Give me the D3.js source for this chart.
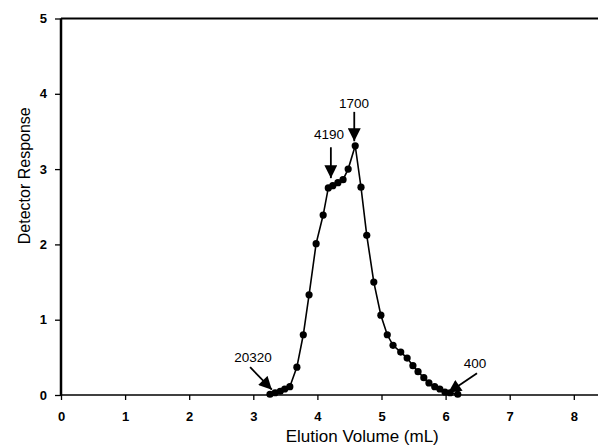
<!DOCTYPE html>
<html>
<head>
<meta charset="utf-8">
<script src="https://cdn.jsdelivr.net/npm/d3@7"></script>
<style>
  body { margin: 0; background: #fff; }
  svg { display: block; }
  .tick text { font-family: "Liberation Sans Narrow", "Arial Narrow", "Liberation Sans", Arial, sans-serif; font-weight: bold; font-size: 13px; }
</style>
</head>
<body>
<div id="chart"></div>
<script>
var width = 598, height = 447;
var margin = ({top: 18.5, right: 0, bottom: 52, left: 61});

// elution volume (mL) and detector response
var volume = [3.26, 3.34, 3.42, 3.49, 3.57, 3.68, 3.78, 3.87, 3.98, 4.09,
              4.17, 4.24, 4.32, 4.40, 4.48, 4.59, 4.68, 4.77, 4.88, 4.99,
              5.09, 5.18, 5.30, 5.40, 5.49, 5.57, 5.66, 5.74, 5.83, 5.91,
              5.99, 6.07, 6.19];
var response = [0.01, 0.03, 0.05, 0.08, 0.11, 0.37, 0.80, 1.33, 2.01, 2.39,
                2.75, 2.78, 2.82, 2.86, 3.00, 3.31, 2.76, 2.12, 1.50, 1.06,
                0.80, 0.66, 0.57, 0.49, 0.39, 0.31, 0.23, 0.16, 0.11, 0.08,
                0.04, 0.03, 0.01];

var xTicks = [0, 1, 2, 3, 4, 5, 6, 7, 8];
var yTicks = [0, 1, 2, 3, 4, 5];

// molecular weight markers: label, label position, arrow start, arrow tip (data units)
var markLabels = ["20320", "4190", "1700", "400"];
var markText = [[3.29, 0.505], [4.18, 3.47], [4.57, 3.88], [6.46, 0.425]];
var markFrom = [[2.95, 0.37], [4.21, 3.29], [4.575, 3.76], [6.49, 0.29]];
var markTo = [[3.29, 0.07], [4.21, 2.88], [4.575, 3.37], [6.04, 0.03]];
var markAnchor = ["end", "middle", "middle", "middle"];

var x = d3.scaleLinear()
    .domain([0, (width - margin.left) / 64.1])
    .range([margin.left, width - margin.right]);

var y = d3.scaleLinear()
    .domain([0, 5])
    .range([height - margin.bottom, margin.top]);

const svg = d3.select("#chart")
    .append("svg")
    .attr("width", width)
    .attr("height", height)
    .attr("viewBox", [0, 0, width, height]);

svg.append("defs").append("marker")
    .attr("id", "head")
    .attr("viewBox", "0 -5 10 10")
    .attr("refX", 10)
    .attr("refY", 0)
    .attr("markerUnits", "userSpaceOnUse")
    .attr("markerWidth", 14)
    .attr("markerHeight", 13)
    .attr("orient", "auto")
  .append("path")
    .attr("d", "M0,-5L10,0L0,5Z")
    .attr("fill", "#000");

// top frame line
svg.append("line")
    .attr("x1", x(0)).attr("x2", width)
    .attr("y1", y(5)).attr("y2", y(5))
    .attr("stroke", "#000")
    .attr("stroke-width", 2);

var xAxis = g => g
    .attr("transform", `translate(0,${y(0)})`)
    .call(d3.axisBottom(x).tickValues(xTicks).tickSize(5).tickPadding(12).tickFormat(d3.format("d")))
    .call(g => g.select(".domain").attr("stroke-width", 1.5).attr("d", `M${x(0)},0H${width}`))
    .call(g => g.selectAll(".tick line").attr("stroke-width", 1.3));

var yAxis = g => g
    .attr("transform", `translate(${x(0)},0)`)
    .call(d3.axisLeft(y).tickValues(yTicks).tickSize(6).tickPadding(8).tickFormat(d3.format("d")))
    .call(g => g.select(".domain").attr("stroke-width", 2.5).attr("d", `M0,${y(0)}V${y(5)}`))
    .call(g => g.selectAll(".tick line").attr("stroke-width", 1.3));

svg.append("g").call(xAxis);
svg.append("g").call(yAxis);

svg.append("text")
    .attr("x", x(4.7))
    .attr("y", 442)
    .attr("text-anchor", "middle")
    .attr("font-family", "Liberation Sans, Arial, sans-serif")
    .attr("font-size", 17)
    .text("Elution Volume (mL)");

svg.append("text")
    .attr("transform", `translate(30,${(y(0) + y(5)) / 2 - 31}) rotate(-90)`)
    .attr("text-anchor", "middle")
    .attr("font-family", "Liberation Sans, Arial, sans-serif")
    .attr("font-size", 16)
    .text("Detector Response");

var pts = volume.map((v, i) => [v, response[i]]);

svg.append("path")
    .datum(pts)
    .attr("fill", "none")
    .attr("stroke", "#000")
    .attr("stroke-width", 1.6)
    .attr("d", d3.line().x(d => x(d[0])).y(d => y(d[1])));

svg.append("g")
    .selectAll("circle")
    .data(pts)
    .join("circle")
      .attr("cx", d => x(d[0]))
      .attr("cy", d => y(d[1]))
      .attr("r", 3.6)
      .attr("fill", "#000");

var marks = svg.append("g");
markLabels.forEach(function (lab, i) {
    marks.append("line")
        .attr("x1", x(markFrom[i][0])).attr("y1", y(markFrom[i][1]))
        .attr("x2", x(markTo[i][0])).attr("y2", y(markTo[i][1]))
        .attr("stroke", "#000")
        .attr("stroke-width", 1.8)
        .attr("marker-end", "url(#head)");
    marks.append("text")
        .attr("x", x(markText[i][0]))
        .attr("y", y(markText[i][1]))
        .attr("dy", "0.36em")
        .attr("text-anchor", markAnchor[i])
        .attr("font-family", "Liberation Sans, Arial, sans-serif")
        .attr("font-size", 13.5)
        .text(lab);
});
</script>
</body>
</html>
